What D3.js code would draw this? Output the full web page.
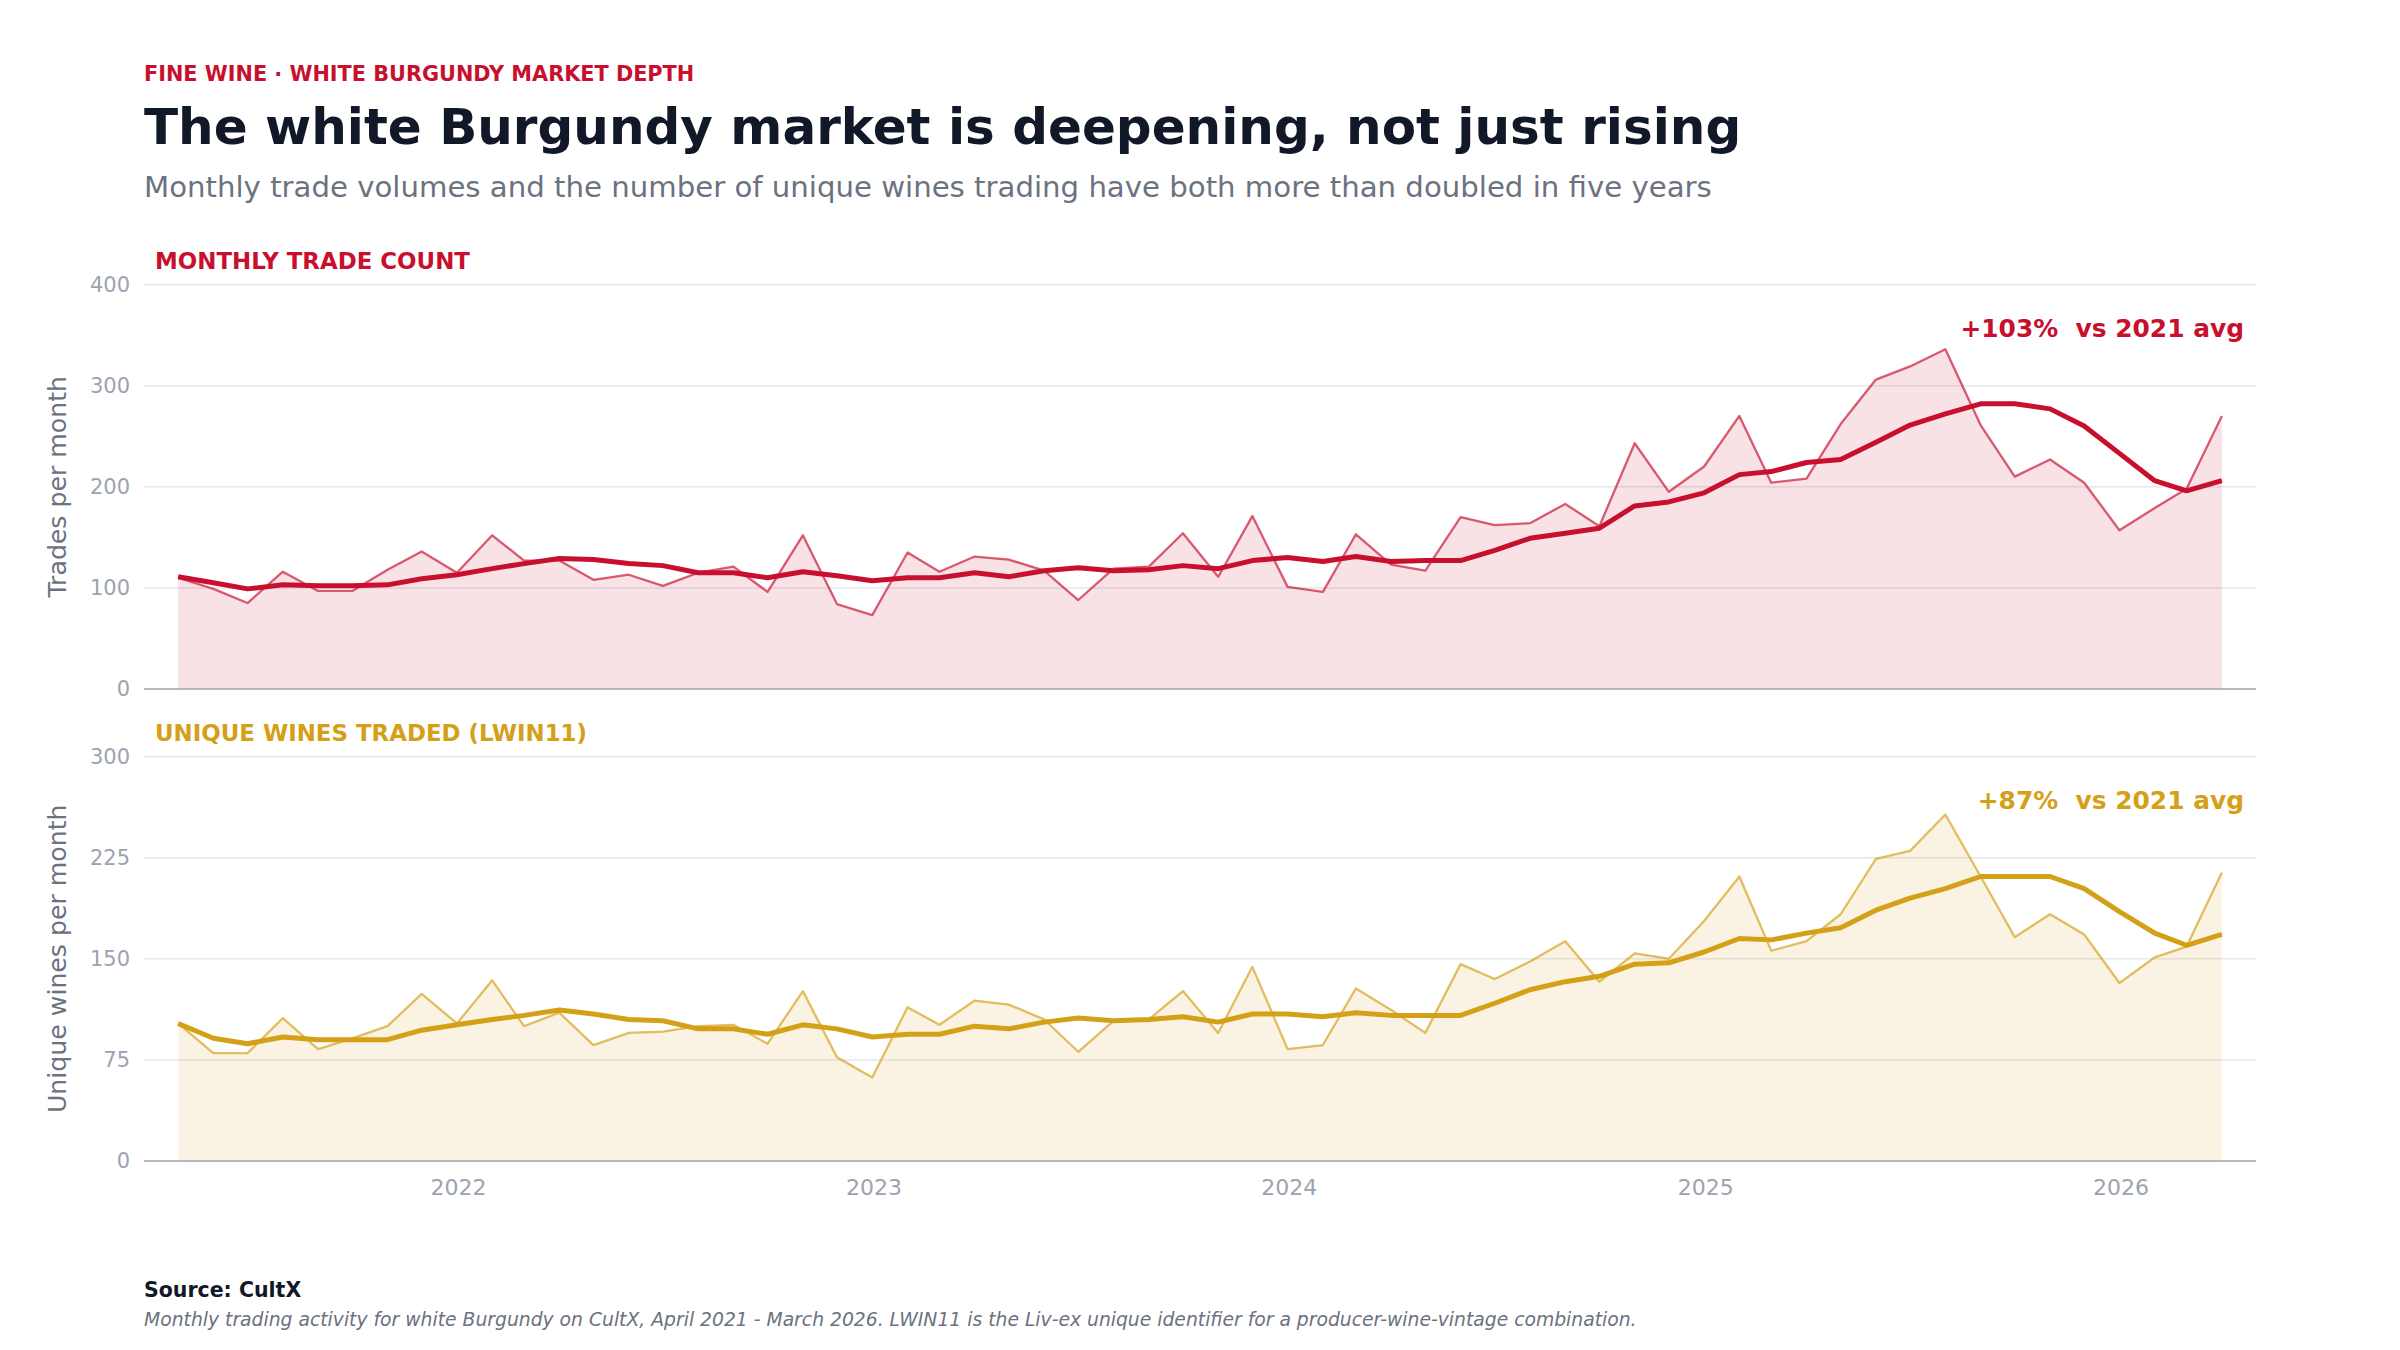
<!DOCTYPE html>
<html>
<head>
<meta charset="utf-8">
<script src="https://cdn.jsdelivr.net/npm/d3@7"></script>
<style>
  body { margin: 0; background: #fff; }
  svg { display: block; font-family: "DejaVu Sans", sans-serif; }
</style>
</head>
<body>
<div id="chart"></div>
<script>
// months: April 2021 - March 2026 (plotted at month end)
var firstMonth = new Date(2021, 3, 1);
var lastMonth = new Date(2026, 2, 1);
var yearTicks = ["2022", "2023", "2024", "2025", "2026"];

// monthly trade count (raw) and smoothed trend
var trades = [110, 99, 85, 116, 97, 97, 118, 136, 115, 152, 127, 127, 108, 113, 102, 115, 121, 96, 152, 84, 73,
  135, 116, 131, 128, 117, 88, 119, 121, 154, 111, 171, 101, 96, 153, 123, 117, 170, 162, 164, 183,
  161, 243, 195, 220, 270, 204, 208, 262, 306, 319, 336, 261, 210, 227, 204, 157, 179, 198, 270];
var tradesTrend = [111, 105, 99, 103, 102, 102, 103, 109, 113, 119, 124, 129, 128, 124, 122, 115, 115, 110, 116, 112, 107,
  110, 110, 115, 111, 117, 120, 117, 118, 122, 119, 127, 130, 126, 131, 126, 127, 127, 137, 149, 154,
  159, 181, 185, 194, 212, 215, 224, 227, 244, 261, 272, 282, 282, 277, 260, 233, 206, 196, 206];

// unique wines traded (LWIN11) and smoothed trend
var wines = [102, 80, 80, 106, 83, 91, 100, 124, 102, 134, 100, 110, 86, 95, 96, 100, 101, 87, 126, 77, 62,
  114, 101, 119, 116, 105, 81, 104, 105, 126, 95, 144, 83, 86, 128, 112, 95, 146, 135, 148, 163,
  133, 154, 150, 178, 211, 156, 163, 183, 224, 230, 257, 211, 166, 183, 168, 132, 151, 159, 214];
var winesTrend = [102, 91, 87, 92, 90, 90, 90, 97, 101, 105, 108, 112, 109, 105, 104, 98, 98, 94, 101, 98, 92,
  94, 94, 100, 98, 103, 106, 104, 105, 107, 103, 109, 109, 107, 110, 108, 108, 108, 117, 127, 133,
  137, 146, 147, 155, 165, 164, 169, 173, 186, 195, 202, 211, 211, 211, 202, 185, 169, 160, 168];

var tradeTicks = [0, 100, 200, 300, 400];
var wineTicks = [0, 75, 150, 225, 300];

var RED = "#c8102e";
var GOLD = "#d4a017";

var w = 2400;
var h = 1350;
var left = 144;
var right = 2256;

// month-end dates
var dates = d3.timeMonth.range(firstMonth, d3.timeMonth.offset(lastMonth, 1))
  .map(function (d) { return d3.timeDay.offset(d3.timeMonth.offset(d, 1), -1); });

var svg = d3
  .select("#chart")
  .append("svg")
  .attr("width", w)
  .attr("height", h);

var xScale = d3
  .scaleTime()
  .domain([d3.timeDay.offset(dates[0], -30), d3.timeDay.offset(dates[dates.length - 1], 30)])
  .range([left, right]);

// header
svg.append("text").attr("x", left).attr("y", 81)
  .style("font-size", "20.8px").style("font-weight", "bold").attr("fill", RED)
  .text("FINE WINE · WHITE BURGUNDY MARKET DEPTH");
svg.append("text").attr("x", left).attr("y", 144)
  .style("font-size", "50px").style("font-weight", "bold").attr("fill", "#111827")
  .text("The white Burgundy market is deepening, not just rising");
svg.append("text").attr("x", left).attr("y", 197)
  .style("font-size", "29.2px").attr("fill", "#6b7280")
  .text("Monthly trade volumes and the number of unique wines trading have both more than doubled in five years");

function panel(cfg) {
  var yScale = d3.scaleLinear().domain([0, cfg.ticks[cfg.ticks.length - 1]]).range([cfg.bottom, cfg.top]);
  var g = svg.append("g");

  // gridlines
  g.selectAll(".grid")
    .data(cfg.ticks.slice(1))
    .enter()
    .append("line")
    .attr("x1", left).attr("x2", right)
    .attr("y1", function (d) { return yScale(d); })
    .attr("y2", function (d) { return yScale(d); })
    .attr("stroke", "#e5e7eb")
    .attr("stroke-width", 1.5);

  var area = d3.area()
    .x(function (d, i) { return xScale(dates[i]); })
    .y0(yScale(0))
    .y1(function (d) { return yScale(d); });
  var line = d3.line()
    .x(function (d, i) { return xScale(dates[i]); })
    .y(function (d) { return yScale(d); });

  g.append("path").datum(cfg.raw).attr("d", area)
    .attr("fill", cfg.color).attr("fill-opacity", 0.12);
  g.append("path").datum(cfg.raw).attr("d", line)
    .attr("fill", "none").attr("stroke", cfg.color).attr("stroke-opacity", 0.68)
    .attr("stroke-width", 2.3).attr("stroke-linejoin", "round");
  g.append("path").datum(cfg.trend).attr("d", line)
    .attr("fill", "none").attr("stroke", cfg.color)
    .attr("stroke-width", 5).attr("stroke-linejoin", "round");

  // y axis (labels only)
  var yAxis = d3.axisLeft(yScale).tickValues(cfg.ticks).tickSize(0).tickPadding(14);
  var ya = g.append("g").attr("transform", "translate(" + left + ",0)").call(yAxis);
  ya.select(".domain").remove();
  ya.selectAll("text").style("font-size", "21px").style("font-family", "DejaVu Sans").attr("fill", "#9ca3af");

  // baseline
  g.append("line").attr("x1", left).attr("x2", right)
    .attr("y1", yScale(0)).attr("y2", yScale(0))
    .attr("stroke", "#9ca3af").attr("stroke-width", 1.5);

  g.append("text").attr("x", 155).attr("y", cfg.top - 16)
    .style("font-size", "22.9px").style("font-weight", "bold").attr("fill", cfg.color)
    .text(cfg.label);

  g.append("text").attr("x", 2244).attr("y", cfg.top + 52).attr("text-anchor", "end")
    .style("font-size", "24.9px").style("font-weight", "bold").attr("fill", cfg.color)
    .attr("xml:space", "preserve")
    .text(cfg.note);

  g.append("text")
    .attr("transform", "translate(66," + (cfg.top + cfg.bottom) / 2 + ") rotate(-90)")
    .attr("text-anchor", "middle")
    .style("font-size", "25.2px").attr("fill", "#6b7280")
    .text(cfg.yTitle);
}

panel({ top: 284.5, bottom: 689, ticks: tradeTicks, raw: trades, trend: tradesTrend, color: RED,
  label: "MONTHLY TRADE COUNT", note: "+103%  vs 2021 avg", yTitle: "Trades per month" });
panel({ top: 756.5, bottom: 1161, ticks: wineTicks, raw: wines, trend: winesTrend, color: GOLD,
  label: "UNIQUE WINES TRADED (LWIN11)", note: "+87%  vs 2021 avg", yTitle: "Unique wines per month" });

// x axis labels
var xAxis = d3.axisBottom(xScale)
  .tickValues(yearTicks.map(function (y) { return new Date(+y, 0, 1); }))
  .tickFormat(d3.timeFormat("%Y"))
  .tickSize(0)
  .tickPadding(18);
var xa = svg.append("g").attr("transform", "translate(0,1161)").call(xAxis);
xa.select(".domain").remove();
xa.selectAll("text").style("font-size", "22px").style("font-family", "DejaVu Sans").attr("fill", "#9ca3af");

// footer
svg.append("text").attr("x", left).attr("y", 1297)
  .style("font-size", "20.5px").style("font-weight", "bold").attr("fill", "#111827")
  .text("Source: CultX");
svg.append("text").attr("x", left).attr("y", 1326)
  .style("font-size", "18.75px").style("font-style", "italic").attr("fill", "#6b7280")
  .text("Monthly trading activity for white Burgundy on CultX, April 2021 - March 2026. LWIN11 is the Liv-ex unique identifier for a producer-wine-vintage combination.");
</script>
</body>
</html>
